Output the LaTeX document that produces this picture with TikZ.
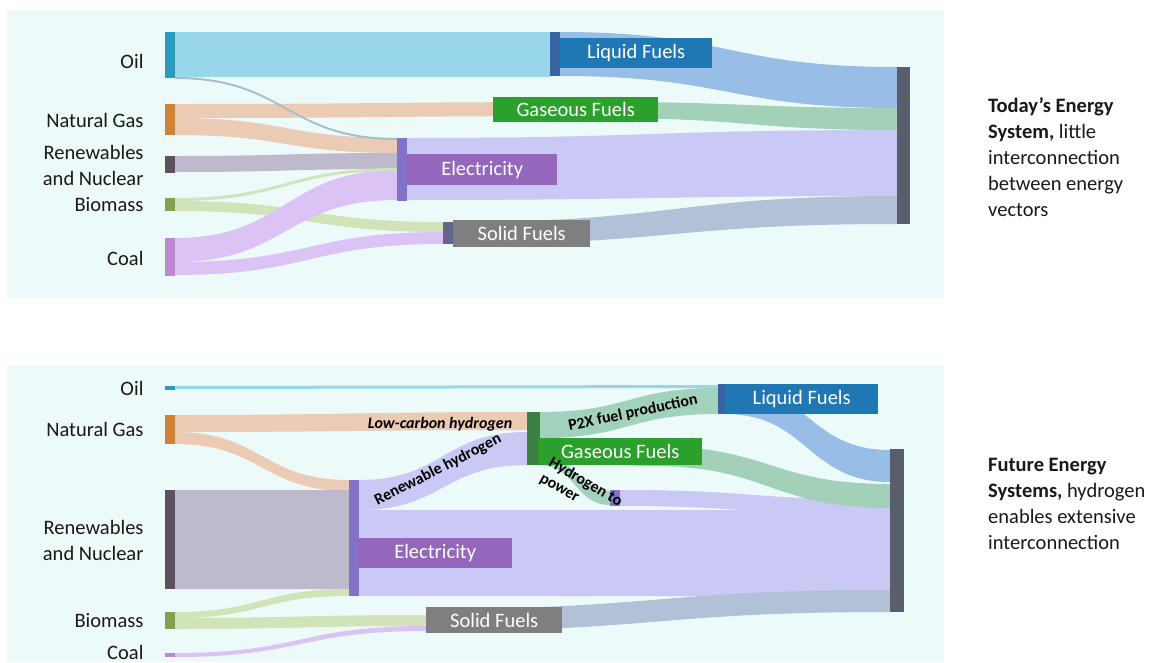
\documentclass[tikz,border=0pt]{standalone}
\usepackage{fontspec}
\setmainfont{Carlito}

\definecolor{bgc}{RGB}{237,250,250}
\definecolor{txtc}{RGB}{25,25,25}
\definecolor{oilc}{RGB}{40,155,190}
\definecolor{oilf}{RGB}{152,214,234}
\definecolor{oilthin}{RGB}{165,190,200}
\definecolor{gasc}{RGB}{210,130,55}
\definecolor{gasf}{RGB}{236,203,180}
\definecolor{renc}{RGB}{95,80,95}
\definecolor{renf}{RGB}{190,185,205}
\definecolor{bioc}{RGB}{135,160,80}
\definecolor{biof}{RGB}{210,226,185}
\definecolor{coalc}{RGB}{190,135,210}
\definecolor{coalf}{RGB}{220,195,245}
\definecolor{elecc}{RGB}{130,114,200}
\definecolor{elecf}{RGB}{202,200,245}
\definecolor{liqbar}{RGB}{55,100,160}
\definecolor{liqf}{RGB}{152,190,232}
\definecolor{liqc}{RGB}{31,119,180}
\definecolor{gasbox}{RGB}{44,160,44}
\definecolor{gasff}{RGB}{162,208,184}
\definecolor{elecbox}{RGB}{148,103,189}
\definecolor{solbar}{RGB}{100,100,140}
\definecolor{solf}{RGB}{178,192,216}
\definecolor{solbox}{RGB}{127,127,127}
\definecolor{finc}{RGB}{88,94,108}
\definecolor{h2c}{RGB}{60,128,70}
\definecolor{p2xf}{RGB}{162,210,188}

% band: x1, top1, bottom1, x2, top2, bottom2, colour
\newcommand{\flow}[7]{%
  \fill[#7] (#1,#2) .. controls ({(#1+#4)/2},#2) and ({(#1+#4)/2},#5) .. (#4,#5)
    -- (#4,#6) .. controls ({(#1+#4)/2},#6) and ({(#1+#4)/2},#3) .. (#1,#3) -- cycle;}

\tikzset{
  bar/.style={fill=#1, inner sep=0pt, minimum width=10pt, anchor=north west},
  tag/.style={fill=#1, text=white, inner sep=0pt, anchor=north west},
  src/.style={anchor=east, align=right, text=txtc},
  flowtext/.style={font=\fontsize{16}{17}\selectfont\bfseries, text=black, inner sep=0pt},
}

\begin{document}
\begin{tikzpicture}[x=1pt, y=-1pt, font=\fontsize{20.5}{26}\selectfont]
	\useasboundingbox (0,0) rectangle (1160,662);
	\fill[white] (0,0) rectangle (1160,662);
	\fill[bgc] (7,10) rectangle (944,298);
	\fill[bgc] (7,365) rectangle (944,662);

	% today
	\flow{175}{32}{77}{550}{32}{77}{oilf}
	\flow{175}{104}{118}{600}{102}{116}{gasf}
	\flow{175}{118}{135}{397}{138}{153}{gasf}
	\flow{175}{156}{172}{397}{153}{169}{renf}
	\flow{175}{201}{211}{443}{222}{232}{biof}
	\flow{175}{238}{262}{397}{170}{200}{coalf}
	\flow{175}{262}{275}{443}{232}{244}{coalf}
	\flow{175}{198}{201}{397}{168}{171}{biof}
	\flow{175}{77}{79}{397}{138}{140}{oilthin}
	\flow{407}{138}{200}{897}{130}{196}{elecf}
	\flow{560}{32}{76}{897}{67}{108}{liqf}
	\flow{600}{102}{118}{897}{108}{130}{gasff}
	\flow{453}{222}{244}{897}{196}{224}{solf}

	\node (oilA) at (165,32) [bar=oilc, minimum height=46pt] {};
	\node (gasA) at (165,104) [bar=gasc, minimum height=31pt] {};
	\node (renA) at (165,156) [bar=renc, minimum height=17pt] {};
	\node (bioA) at (165,198) [bar=bioc, minimum height=13pt] {};
	\node (coalA) at (165,238) [bar=coalc, minimum height=38pt] {};
	\node (liqA) at (550,32) [bar=liqbar, minimum height=44pt] {};
	\node (elecA) at (397,138) [bar=elecc, minimum height=63pt] {};
	\node (solA) at (443,222) [bar=solbar, minimum height=22pt] {};
	\node (finA) at (897,67) [bar=finc, minimum width=13pt, minimum height=157pt] {};

	\node (liqtagA) at (560,38) [tag=liqc, minimum width=152pt, minimum height=30pt] {Liquid Fuels};
	\node (gastagA) at (493,97) [tag=gasbox, minimum width=165pt, minimum height=25pt] {Gaseous Fuels};
	\node (electagA) at (407,154) [tag=elecbox, minimum width=150pt, minimum height=31pt] {Electricity};
	\node (soltagA) at (453,220) [tag=solbox, minimum width=137pt, minimum height=27pt] {Solid Fuels};

	\node (oilT) at (147,61) [src] {Oil};
	\node (gasT) at (147,120) [src] {Natural Gas};
	\node (renT) at (147,165) [src] {Renewables\\and Nuclear};
	\node (bioT) at (147,205) [src] {Biomass};
	\node (coalT) at (147,258) [src] {Coal};

	\node (today) at (988,97) [anchor=north west, align=left, inner sep=0pt, text=txtc] {\textbf{Today’s Energy}\\\textbf{System,} little\\interconnection\\between energy\\vectors};

	% future
	\flow{175}{386}{389}{718}{385}{388}{oilf}
	\flow{175}{415}{432}{527}{412}{430}{gasf}
	\flow{175}{432}{444}{349}{480}{491}{gasf}
	\flow{175}{490}{589}{349}{490}{589}{renf}
	\flow{175}{612}{618}{349}{589}{596}{biof}
	\flow{175}{618}{629}{426}{615}{626}{biof}
	\flow{175}{653}{657}{426}{626}{631}{coalf}
	\flow{359}{480}{510}{527}{432}{465}{elecf}
	\flow{359}{510}{596}{890}{510}{596}{elecf}
	\flow{620}{490}{506}{890}{500}{516}{elecf}
	\flow{540}{412}{438}{718}{388}{414}{p2xf}
	\flow{540}{437}{455}{650}{446}{466}{gasff}
	\flow{650}{446}{466}{890}{484}{508}{gasff}
	\flow{540}{454}{465}{610}{491}{505}{p2xf}
	\flow{725}{384}{414}{890}{450}{482}{liqf}
	\flow{426}{609}{631}{890}{590}{612}{solf}

	\node (oilB) at (165,386) [bar=oilc, minimum height=4pt] {};
	\node (gasB) at (165,415) [bar=gasc, minimum height=29pt] {};
	\node (renB) at (165,490) [bar=renc, minimum height=99pt] {};
	\node (bioB) at (165,612) [bar=bioc, minimum height=17pt] {};
	\node (coalB) at (165,653) [bar=coalc, minimum height=4pt] {};
	\node (elecB) at (349,480) [bar=elecc, minimum height=116pt] {};
	\node (htwo) at (527,412) [bar=h2c, minimum width=13pt, minimum height=53pt] {};
	\node (power) at (610,490) [bar=elecc, minimum height=16pt] {};
	\node (liqB) at (718,384) [bar=liqbar, minimum width=7pt, minimum height=30pt] {};
	\node (finB) at (890,449) [bar=finc, minimum width=14pt, minimum height=163pt] {};

	\node (liqtagB) at (725,384) [tag=liqc, minimum width=153pt, minimum height=30pt] {Liquid Fuels};
	\node (gastagB) at (538,438) [tag=gasbox, minimum width=164pt, minimum height=27pt] {Gaseous Fuels};
	\node (electagB) at (358,538) [tag=elecbox, minimum width=154pt, minimum height=30pt] {Electricity};
	\node (soltagB) at (426,607) [tag=solbox, minimum width=136pt, minimum height=26pt] {Solid Fuels};

	\node (lowc) at (440,424) [flowtext, font=\fontsize{16}{17}\selectfont\bfseries\itshape] {Low-carbon hydrogen};
	\node (renh) at (438,470) [flowtext, rotate=27] {Renewable hydrogen};
	\node (ptx) at (633,413) [flowtext, rotate=12] {P2X fuel production};
	\node (htp) at (581,490) [flowtext, font=\fontsize{16}{18}\selectfont\bfseries, rotate=-30, align=left] {Hydrogen to\\power};

	\node (oilU) at (147,388) [src] {Oil};
	\node (gasU) at (147,429) [src] {Natural Gas};
	\node (renU) at (147,540) [src] {Renewables\\and Nuclear};
	\node (bioU) at (147,621) [src] {Biomass};
	\node (coalU) at (147,652) [src] {Coal};

	\node (future) at (988,458) [anchor=north west, align=left, inner sep=0pt, text=txtc] {\textbf{Future Energy}\\\textbf{Systems,} hydrogen\\enables extensive\\interconnection};
\end{tikzpicture}
\end{document}
